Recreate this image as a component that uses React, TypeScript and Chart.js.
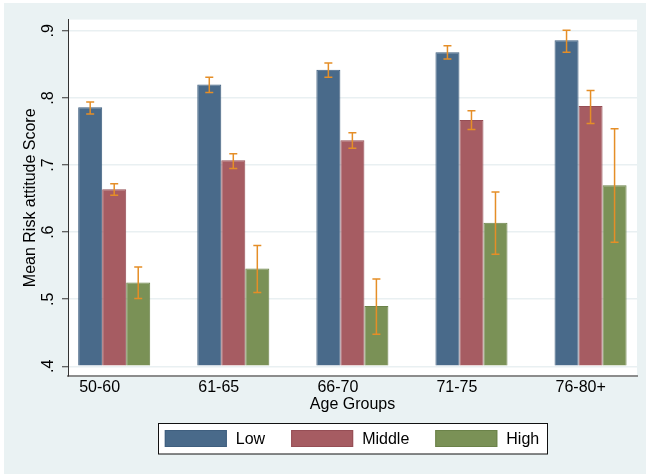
import React, { useEffect, useRef } from "react";
import { Chart, registerables } from "chart.js";

Chart.register(...registerables);

const categories = ["50-60", "61-65", "66-70", "71-75", "76-80+"];
const seriesNames = ["Low", "Middle", "High"];

const lowMean = [0.786, 0.820, 0.842, 0.868, 0.886];
const lowLower = [0.776, 0.808, 0.831, 0.858, 0.868];
const lowUpper = [0.794, 0.831, 0.852, 0.878, 0.901];

const middleMean = [0.664, 0.707, 0.737, 0.767, 0.788];
const middleLower = [0.655, 0.695, 0.725, 0.753, 0.762];
const middleUpper = [0.672, 0.717, 0.748, 0.781, 0.811];

const highMean = [0.525, 0.546, 0.490, 0.614, 0.670];
const highLower = [0.501, 0.510, 0.448, 0.567, 0.585];
const highUpper = [0.548, 0.580, 0.530, 0.660, 0.754];

const yTicks = [0.4, 0.5, 0.6, 0.7, 0.8, 0.9];
const yTickLabels = [".4", ".5", ".6", ".7", ".8", ".9"];

const fills = ["#496a8a", "#a65c62", "#7a9156"];
const borders = ["#3f5f7f", "#964e55", "#6b8249"];
const errColor = "#e58e27";

const FONT = "'Liberation Sans', Arial, Helvetica, sans-serif";

export default function App() {
  const ref = useRef<HTMLCanvasElement | null>(null);

  useEffect(() => {
    const canvas = ref.current;
    if (!canvas) return;

    const means = [lowMean, middleMean, highMean];
    const lowers = [lowLower, middleLower, highLower];
    const uppers = [lowUpper, middleUpper, highUpper];

    const plotBg = {
      id: "plotBg",
      beforeDraw(chart: any) {
        const { ctx, chartArea } = chart;
        ctx.save();
        ctx.fillStyle = "#ffffff";
        ctx.fillRect(chartArea.left, chartArea.top, chartArea.right - chartArea.left, chartArea.bottom - chartArea.top);
        ctx.restore();
      },
    };

    const errorBars = {
      id: "errorBars",
      afterDatasetsDraw(chart: any) {
        const { ctx } = chart;
        const yScale = chart.scales.y;
        ctx.save();
        ctx.strokeStyle = errColor;
        ctx.lineWidth = 1.5;
        chart.data.datasets.forEach((_: any, di: number) => {
          const meta = chart.getDatasetMeta(di);
          meta.data.forEach((bar: any, i: number) => {
            const x = bar.x;
            const yt = yScale.getPixelForValue(uppers[di][i]);
            const yb = yScale.getPixelForValue(lowers[di][i]);
            const cap = 4;
            ctx.beginPath();
            ctx.moveTo(x, yt);
            ctx.lineTo(x, yb);
            ctx.moveTo(x - cap, yt);
            ctx.lineTo(x + cap, yt);
            ctx.moveTo(x - cap, yb);
            ctx.lineTo(x + cap, yb);
            ctx.stroke();
          });
        });
        ctx.restore();
      },
    };

    const boxLegend = {
      id: "boxLegend",
      afterDraw(chart: any) {
        const { ctx, chartArea } = chart;
        ctx.save();
        ctx.font = `16px ${FONT}`;
        const pad = 7;
        const sw = 62;
        const sh = 17;
        const gapText = 9;
        const gapItem = 26;
        const widths = seriesNames.map((n) => ctx.measureText(n).width);
        let total = pad;
        widths.forEach((w, i) => {
          total += sw + gapText + w + (i < widths.length - 1 ? gapItem : 0);
        });
        total += 8;
        const cx = (chartArea.left + chartArea.right) / 2;
        const left = cx - total / 2;
        const top = 420.5;
        const h = 30.5;
        ctx.fillStyle = "#ffffff";
        ctx.fillRect(left, top, total, h);
        ctx.strokeStyle = "#111111";
        ctx.lineWidth = 1;
        ctx.strokeRect(Math.round(left) + 0.5, top, Math.round(total), h);
        let x = left + pad;
        const sy = 427;
        seriesNames.forEach((n, i) => {
          ctx.fillStyle = fills[i];
          ctx.fillRect(x, sy, sw, sh);
          ctx.strokeStyle = borders[i];
          ctx.strokeRect(x + 0.5, sy + 0.5, sw - 1, sh - 1);
          ctx.fillStyle = "#000000";
          ctx.textAlign = "left";
          ctx.textBaseline = "middle";
          ctx.fillText(n, x + sw + gapText, sy + sh / 2 + 1);
          x += sw + gapText + widths[i] + gapItem;
        });
        ctx.restore();
      },
    };

    const chart = new Chart(canvas, {
      type: "bar",
      data: {
        datasets: seriesNames.map((name, di) => ({
          label: name,
          data: means[di].map((v, i) => ({ x: i, y: v })),
          backgroundColor: fills[di],
          borderColor: borders[di],
          borderWidth: 1,
          base: 0.4,
          categoryPercentage: 0.605,
          barPercentage: 1,
        })),
      },
      options: {
        animation: false,
        responsive: false,
        devicePixelRatio: 1,
        layout: { padding: { top: 16, right: 9, left: 0, bottom: 0 } },
        plugins: {
          legend: { display: false },
          tooltip: { enabled: false },
        },
        scales: {
          x: {
            type: "linear",
            offset: false,
            min: -0.388,
            max: 4.39,
            afterBuildTicks: (axis: any) => {
              axis.ticks = categories.map((_, i) => ({ value: i }));
            },
            afterFit: (scale: any) => {
              scale.height = 98;
            },
            grid: { display: false, drawTicks: false, offset: false },
            border: { display: true, color: "#8c8c8c", width: 2 },
            ticks: {
              callback: (v: any) => categories[v as number] ?? "",
              align: "start",
              labelOffset: -35,
              padding: 2,
              maxRotation: 0,
              minRotation: 0,
              autoSkip: false,
              color: "#000",
              font: { family: FONT, size: 16 },
            },
            title: {
              display: true,
              text: "Age Groups",
              color: "#000",
              font: { family: FONT, size: 16 },
              padding: { top: 0, bottom: 60 },
            },
          },
          y: {
            type: "linear",
            min: 0.3856,
            max: 0.9168,
            afterBuildTicks: (axis: any) => {
              axis.ticks = yTicks.map((v) => ({ value: v }));
            },
            afterFit: (scale: any) => {
              scale.width = 64;
            },
            grid: {
              color: "#e9f0f2",
              lineWidth: 1.5,
              tickColor: "#333333",
              tickWidth: 1,
              tickLength: 6,
              drawTicks: true,
            },
            border: { display: true, color: "#333333", width: 1 },
            ticks: {
              callback: (_v: any, i: number) => yTickLabels[i],
              minRotation: 90,
              maxRotation: 90,
              crossAlign: "center",
              padding: 7,
              color: "#000",
              font: { family: FONT, size: 16 },
            },
            title: {
              display: true,
              text: "Mean Risk attitude Score",
              color: "#000",
              font: { family: FONT, size: 16 },
              padding: { top: 17, bottom: 0 },
            },
          },
        },
      } as any,
      plugins: [plotBg, errorBars, boxLegend],
    });

    return () => chart.destroy();
  }, []);

  return (
    <div
      style={{
        position: "absolute",
        left: 4,
        top: 3,
        width: 642,
        height: 471,
        background: "#eaf2f3",
      }}
    >
      <canvas ref={ref} width={642} height={471} style={{ display: "block" }} />
    </div>
  );
}
